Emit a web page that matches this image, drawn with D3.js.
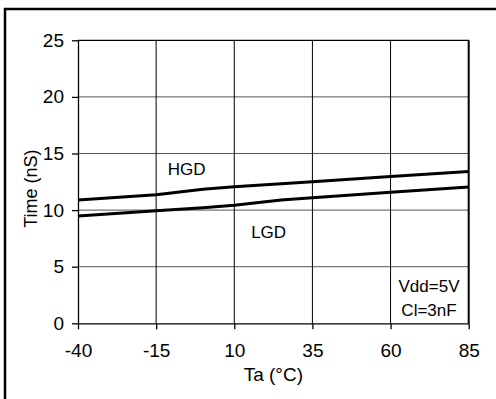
<!DOCTYPE html>
<html>
<head>
<meta charset="utf-8">
<script src="https://cdn.jsdelivr.net/npm/d3@7"></script>
<style>
  body { margin: 0; background: #fff; }
  svg { display: block; font-family: Arial, "Liberation Sans", sans-serif; }
</style>
</head>
<body>
<div id="chart"></div>
<script>
// temperature points (°C) and times (nS)
const temps = [-40, -15, 0, 10, 25, 35, 60, 85];
const hgd = [10.9, 11.35, 11.85, 12.07, 12.33, 12.5, 12.97, 13.4];
const lgd = [9.48, 9.95, 10.2, 10.42, 10.9, 11.1, 11.57, 12.04];
const xTicks = [-40, -15, 10, 35, 60, 85];
const yTicks = [0, 5, 10, 15, 20, 25];

const width = 496, height = 399;
const margin = { top: 40.3, right: 27.3, bottom: 75.7, left: 78 };

const svg = d3.select("#chart")
  .append("svg")
    .attr("width", width)
    .attr("height", height);

// outer frame (only left and top edges visible)
svg.append("rect")
  .attr("x", 5)
  .attr("y", 9)
  .attr("width", 520)
  .attr("height", 420)
  .attr("fill", "none")
  .attr("stroke", "#000")
  .attr("stroke-width", 2.5);

const x = d3.scaleLinear()
  .domain([-40, 85])
  .range([margin.left, width - margin.right]);

const y = d3.scaleLinear()
  .domain([0, 25])
  .range([height - margin.bottom, margin.top]);

// horizontal grid
svg.append("g")
  .selectAll("line")
  .data(yTicks.slice(1, -1))
  .enter()
  .append("line")
    .attr("x1", x(-40))
    .attr("x2", x(85))
    .attr("y1", d => y(d))
    .attr("y2", d => y(d))
    .attr("stroke", "#555")
    .attr("stroke-width", 1);

// vertical grid
svg.append("g")
  .selectAll("line")
  .data(xTicks.slice(1, -1))
  .enter()
  .append("line")
    .attr("x1", d => x(d))
    .attr("x2", d => x(d))
    .attr("y1", y(0))
    .attr("y2", y(25))
    .attr("stroke", "#000")
    .attr("stroke-width", 1);

// plot border
svg.append("line")
  .attr("x1", x(-40)).attr("x2", x(85))
  .attr("y1", y(25)).attr("y2", y(25))
  .attr("stroke", "#000").attr("stroke-width", 1.3);
svg.append("line")
  .attr("x1", x(85)).attr("x2", x(85))
  .attr("y1", y(25)).attr("y2", y(0))
  .attr("stroke", "#000").attr("stroke-width", 2);

const xAxis = svg.append("g")
  .attr("transform", "translate(0," + y(0) + ")")
  .call(d3.axisBottom(x).tickValues(xTicks).tickFormat(d => String(d))
    .tickSize(6).tickPadding(14).tickSizeOuter(0));

const yAxis = svg.append("g")
  .attr("transform", "translate(" + x(-40) + ",0)")
  .call(d3.axisLeft(y).tickValues(yTicks).tickFormat(d => String(d))
    .tickSize(6).tickPadding(8).tickSizeOuter(0));

[xAxis, yAxis].forEach(function(a) {
  a.select(".domain").attr("stroke", "#000").attr("stroke-width", 1.3);
  a.selectAll(".tick line").attr("stroke", "#000").attr("stroke-width", 1.3);
  a.selectAll(".tick text")
    .attr("fill", "#000")
    .style("font-family", "Arial, 'Liberation Sans', sans-serif")
    .style("font-size", "19px");
});

const line = d3.line()
  .x(d => x(d[0]))
  .y(d => y(d[1]));

[hgd, lgd].forEach(function(series) {
  svg.append("path")
    .datum(temps.map((t, i) => [t, series[i]]))
    .attr("d", line)
    .attr("fill", "none")
    .attr("stroke", "#000")
    .attr("stroke-width", 3);
});

// labels
svg.append("text")
  .attr("x", x(-11.3))
  .attr("y", y(13.1))
  .style("font-size", "17px")
  .text("HGD");

svg.append("text")
  .attr("x", x(15.4))
  .attr("y", y(7.55))
  .style("font-size", "17px")
  .text("LGD");

svg.append("text")
  .attr("x", x(72.3))
  .attr("y", y(2.78))
  .attr("text-anchor", "middle")
  .style("font-size", "17px")
  .text("Vdd=5V");

svg.append("text")
  .attr("x", x(72.3))
  .attr("y", y(0.65))
  .attr("text-anchor", "middle")
  .style("font-size", "17px")
  .text("Cl=3nF");

svg.append("text")
  .attr("x", x(22.5))
  .attr("y", 381)
  .attr("text-anchor", "middle")
  .style("font-size", "19px")
  .text("Ta (°C)");

svg.append("text")
  .attr("transform", "translate(37," + y(11.9) + ") rotate(-90)")
  .attr("text-anchor", "middle")
  .style("font-size", "18px")
  .text("Time (nS)");
</script>
</body>
</html>
